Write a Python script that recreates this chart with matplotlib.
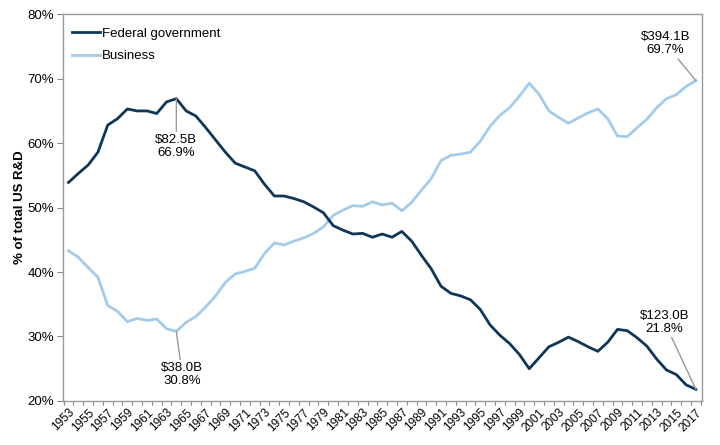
import matplotlib
matplotlib.use("Agg")
import matplotlib.pyplot as plt
from matplotlib.ticker import FixedLocator, PercentFormatter

years = list(range(1953, 2018))
federal = [53.9, 55.3, 56.6, 58.6, 62.8, 63.8, 65.3, 65.0, 65.0, 64.6,
           66.4, 66.9, 65.0, 64.2, 62.4, 60.5, 58.6, 56.9, 56.3, 55.7,
           53.6, 51.8, 51.8, 51.4, 50.9, 50.1, 49.2, 47.2, 46.5, 45.9,
           46.0, 45.4, 45.9, 45.4, 46.3, 44.8, 42.6, 40.5, 37.8, 36.7,
           36.3, 35.7, 34.2, 31.8, 30.2, 28.9, 27.2, 25.0, 26.7, 28.4,
           29.1, 29.9, 29.2, 28.4, 27.7, 29.1, 31.1, 30.9, 29.8, 28.5,
           26.5, 24.8, 24.1, 22.5, 21.8]
business = [43.3, 42.3, 40.7, 39.2, 34.8, 33.9, 32.3, 32.8, 32.5, 32.7,
            31.2, 30.8, 32.2, 33.1, 34.6, 36.3, 38.4, 39.7, 40.1, 40.6,
            42.9, 44.5, 44.2, 44.8, 45.3, 46.0, 47.0, 48.8, 49.6, 50.3,
            50.2, 50.9, 50.4, 50.7, 49.5, 50.8, 52.7, 54.5, 57.3, 58.1,
            58.3, 58.6, 60.3, 62.6, 64.3, 65.5, 67.3, 69.3, 67.6, 65.0,
            64.0, 63.1, 63.9, 64.7, 65.3, 63.8, 61.1, 61.0, 62.4, 63.7,
            65.5, 66.9, 67.5, 68.8, 69.7]
series_names = ["Federal government", "Business"]
y_ticks = [20, 30, 40, 50, 60, 70, 80]

# annotations: (series, year, text)
notes = [
    ("fed", 1964, "$82.5B\n66.9%"),
    ("bus", 1964, "$38.0B\n30.8%"),
    ("bus", 2017, "$394.1B\n69.7%"),
    ("fed", 2017, "$123.0B\n21.8%"),
]

plt.rcParams['font.family'] = ['Liberation Sans', 'DejaVu Sans']

fig = plt.figure(figsize=(7.2, 4.45), dpi=100)
ax = fig.add_axes([0.087, 0.099, 0.8877, 0.869])

fed_color = "#0E3658"
bus_color = "#A3CBEB"
ax.plot(years, federal, color=fed_color, lw=2.0, label=series_names[0], zorder=3)
ax.plot(years, business, color=bus_color, lw=2.0, label=series_names[1], zorder=2)

ax.set_ylim(20, 80)
ax.set_xlim(1952.4, 2017.6)
ax.yaxis.set_major_locator(FixedLocator(y_ticks))
ax.yaxis.set_major_formatter(PercentFormatter(decimals=0))
ax.set_xticks(years[::2])
ax.set_xticklabels([str(y) for y in years[::2]], rotation=45, ha='right',
                   rotation_mode='anchor', fontsize=8.5)
ax.tick_params(axis='x', which='major', length=0, pad=4)
ax.set_xticks([y - 0.5 for y in years] + [years[-1] + 0.5], minor=True)
ax.tick_params(axis='x', which='minor', length=3, color='#888888', width=0.8)
ax.tick_params(axis='y', length=4, color='#888888', width=0.8, labelsize=9.5, pad=2)

for s in ax.spines.values():
    s.set_color('#999999')
    s.set_linewidth(1.0)

ax.set_ylabel("% of total US R&D", fontsize=9.5, fontweight='bold', labelpad=1)

leg = ax.legend(loc='upper left', frameon=False, fontsize=9.5, handlelength=2.1,
                handletextpad=0.2, labelspacing=0.8, borderaxespad=0.3,
                bbox_to_anchor=(0.0, 0.99))

vals = {"fed": dict(zip(years, federal)), "bus": dict(zip(years, business))}
offsets = {
    ("fed", 1964): (0, -5.5),
    ("bus", 1964): (0.6, -4.8),
    ("bus", 2017): (-3.1, 3.8),
    ("fed", 2017): (-3.2, 8.5),
}
for key, yr, txt in notes:
    yv = vals[key][yr]
    dx, dy = offsets[(key, yr)]
    ax.annotate(txt, xy=(yr, yv), xytext=(yr + dx, yv + dy),
                ha='center', va='top' if dy < 0 else 'bottom', fontsize=9.5,
                linespacing=1.1,
                arrowprops=dict(arrowstyle='-', color='#999999', lw=1.0,
                                shrinkA=0, shrinkB=0))

fig.savefig("out.png", dpi=100)
